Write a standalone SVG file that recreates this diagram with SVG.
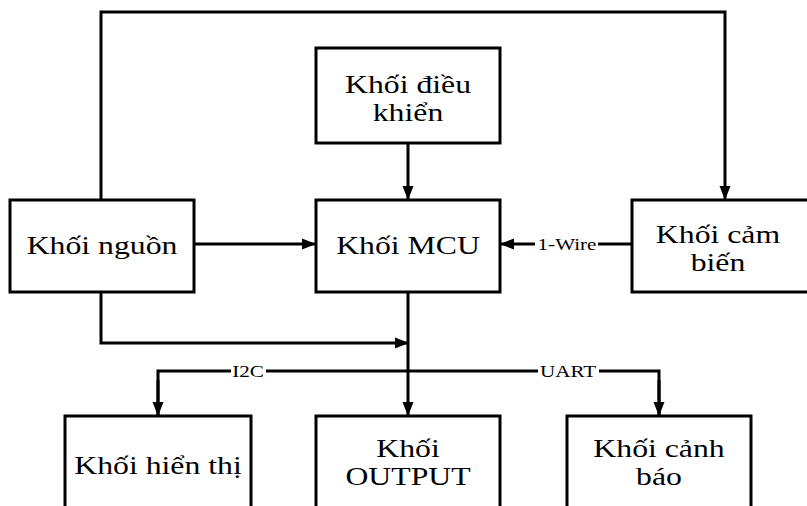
<svg xmlns="http://www.w3.org/2000/svg" width="807" height="506" viewBox="0 0 807 506">
<style>
.box{fill:#fff;stroke:#000;stroke-width:3}
.ln{fill:none;stroke:#000;stroke-width:3}
.t{font-family:"Liberation Serif","Times New Roman",serif;font-size:25px;fill:#000;text-anchor:middle}
.lb{font-family:"Liberation Serif","Times New Roman",serif;font-size:16px;fill:#000;text-anchor:middle}
.bg{fill:#fff}
</style>
<defs>
<marker id="ah" markerUnits="userSpaceOnUse" markerWidth="14" markerHeight="14" viewBox="0 0 14 14" refX="13" refY="7" orient="auto">
<path d="M0,1.5 L14,7 L0,12.5 Z" fill="#000"/>
</marker>
</defs>
<rect width="807" height="506" fill="#fff"/>
<g id="connectors">
<path class="ln" d="M101,200 V12 H725 V199" marker-end="url(#ah)"/>
<path class="ln" d="M408,143 V199" marker-end="url(#ah)"/>
<path class="ln" d="M194,244 H315" marker-end="url(#ah)"/>
<path class="ln" d="M632,244 H501" marker-end="url(#ah)"/>
<path class="ln" d="M101,292 V343 H408" marker-end="url(#ah)"/>
<path class="ln" d="M408,292 V415" marker-end="url(#ah)"/>
<path class="ln" d="M158,415 V371 H659 V415" />
<path class="ln" d="M158,380 V415" marker-end="url(#ah)"/>
<path class="ln" d="M659,380 V415" marker-end="url(#ah)"/>
<g>
<rect class="bg" x="535" y="235" width="63" height="17"/>
<text class="lb" transform="translate(567,250) scale(1.32,1)">1-Wire</text>
<rect class="bg" x="231" y="363" width="35" height="15"/>
<text class="lb" transform="translate(248,377) scale(1.32,1)">I2C</text>
<rect class="bg" x="538" y="363" width="61" height="15"/>
<text class="lb" transform="translate(568,377) scale(1.32,1)">UART</text>
</g>
</g>
<g id="dieukhien">
<rect class="box" x="316" y="48" width="184" height="95"/>
<text class="t" transform="translate(408,93) scale(1.27,1)">Khối điều</text>
<text class="t" transform="translate(408,121) scale(1.27,1)">khiển</text>
</g>
<g id="nguon">
<rect class="box" x="10" y="200" width="184" height="92"/>
<text class="t" transform="translate(102,254) scale(1.27,1)">Khối nguồn</text>
</g>
<g id="mcu">
<rect class="box" x="316" y="200" width="184" height="92"/>
<text class="t" transform="translate(408,254) scale(1.27,1)">Khối MCU</text>
</g>
<g id="cambien">
<rect class="box" x="632" y="200" width="190" height="92"/>
<text class="t" transform="translate(718,243) scale(1.27,1)">Khối cảm</text>
<text class="t" transform="translate(718,271) scale(1.27,1)">biến</text>
</g>
<g id="hienthi">
<rect class="box" x="65" y="416" width="186" height="110"/>
<text class="t" transform="translate(158,474) scale(1.27,1)">Khối hiển thị</text>
</g>
<g id="output">
<rect class="box" x="316" y="416" width="184" height="110"/>
<text class="t" transform="translate(408,457) scale(1.27,1)">Khối</text>
<text class="t" transform="translate(408,485) scale(1.27,1)">OUTPUT</text>
</g>
<g id="canhbao">
<rect class="box" x="567" y="416" width="184" height="110"/>
<text class="t" transform="translate(659,457) scale(1.27,1)">Khối cảnh</text>
<text class="t" transform="translate(659,485) scale(1.27,1)">báo</text>
</g>
</svg>
